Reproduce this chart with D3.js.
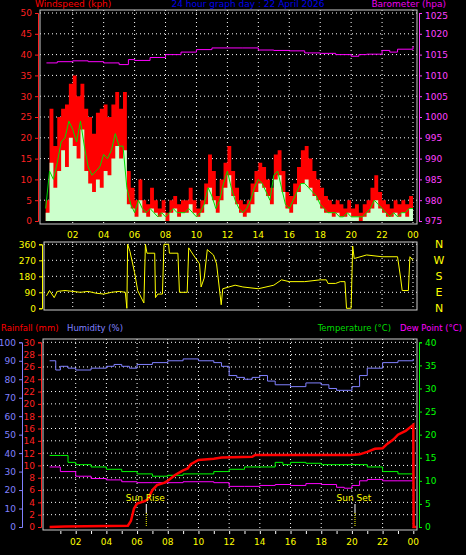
<!DOCTYPE html>
<html><head><meta charset="utf-8">
<script src="https://cdn.jsdelivr.net/npm/d3@7"></script>
<style>body{margin:0;background:#000}text{font-family:"DejaVu Sans",sans-serif}</style>
</head><body>
<script>
'use strict';

// wind, quarter-hour samples from 00:15 to 24:00
let gust = [5,27,18,25, 27,28,33,35, 30,33,27,25, 21,26,27,28, 25,28,31,27, 31,12,8,5,
  10,5,4,8, 5,3,5,2, 5,6,4,5, 5,8,5,3, 5,9,16,12, 6,10,14,18, 12,8,5,4, 5,9,12,14,
  13,10,8,16, 17,12,7,6, 9,13,17,18, 15,12,10,8, 6,5,4,5, 4,3,5,3, 4,2,4,5, 8,11,7,5, 4,3,5,4, 5,4,6,9];
let speed = [2,14,8,12, 17,13,20,18, 15,22,12,9, 7,10,8,12, 11,15,18,15, 17,4,3,1,
  5,2,1,3, 2,1,2,0, 2,3,1,2, 2,4,2,1, 2,4,8,5, 2,5,8,11, 6,4,2,1, 2,4,7,9,
  8,6,4,10, 11,7,3,2, 4,7,9,10, 8,6,5,3, 2,2,1,2, 1,1,2,1, 1,0,1,2, 3,5,3,2, 1,1,2,1, 2,1,3,4];
let avgWind = [3,12,10,14, 19,20,24,22, 19,24,18,13, 11,12,13,16, 15,17,21,18, 18,8,4,2,
  5,3,2,3, 2,1,2,1, 2,3,2,2, 2,3,2,1, 2,4,8,6, 3,5,9,12, 8,5,3,2, 3,5,8,10,
  9,7,5,11, 12,8,4,3, 5,7,9,9, 8,7,6,4, 3,2,2,2, 1,1,2,1, 1,1,1,2, 3,5,4,3, 2,1,2,1, 2,2,3,3];

let baro = [[0.3,1013],[1,1013.3],[2,1013.5],[3,1013.3],[4,1013],[5,1012.6],[5.6,1013.8],[6,1013.6],[7,1014.3],[8,1015],[9,1015.6],[10,1016.2],[11,1016.6],[12,1016.6],[13,1016.6],[14,1016.1],[15,1016],[16,1015.9],[17,1015.4],[18,1015.3],[19,1015],[20,1014.6],[20.5,1015],[21,1015.1],[22,1016],[22.5,1015.6],[23,1016.3],[24,1017]];

let windDir = [[0.3,70],[0.5,100],[0.8,60],[1,95],[1.5,100],[2,95],[2.5,90],[3,95],[3.5,85],[4,80],[4.5,90],[5,95],[5.4,90],[5.5,0],[5.55,360],[5.7,320],[6,200],[6.2,100],[6.6,30],[6.7,360],[6.8,310],[7.3,310],[7.35,60],[7.5,80],[7.8,80],[7.9,360],[8.2,360],[8.25,310],[8.8,310],[8.9,90],[9.4,90],[9.5,340],[9.8,300],[10.2,250],[10.3,120],[10.5,170],[10.7,330],[11.1,300],[11.3,250],[11.6,20],[11.7,110],[12.5,130],[13,120],[14,110],[15,130],[15.5,160],[16,150],[17,150],[18,160],[18.4,160],[18.5,140],[19,140],[19.3,150],[19.6,150],[19.7,0],[20,0],[20.1,350],[20.2,280],[21,300],[22,290],[23,290],[23.2,170],[23.3,100],[23.7,100],[23.8,290],[24,270]];

let humidity = [[0.3,90],[0.7,85],[1,87],[1.5,86],[2,85],[3,86],[4,87],[4.5,88],[5,87],[5.5,86],[6,88],[7,89],[8,90],[9,91],[10,90],[11,89],[11.5,87],[12,82],[12.5,81],[13,80],[13.5,81],[14,82],[14.5,79],[15,77],[16,76],[17,78],[18,77],[18.5,75],[19,74],[19.8,74],[20,76],[20.5,82],[21,86],[22,89],[23,90],[24,91]];
let temperature = [[0.3,15.5],[1,15.5],[1.5,14],[2,13.5],[3,13],[4,12.5],[5,12],[6,11.5],[7,11],[8,11.2],[9,11.5],[10,11.5],[11,12],[12,12.5],[13,13],[14,13],[14.5,13],[15,14],[15.5,13.5],[16,14],[17,13.8],[18,13.5],[19,13.5],[20,13.5],[21,13],[22,12],[23,11.5],[24,12]];
let dewPoint = [[0.3,13],[1,12],[2,11],[3,10.5],[4,10.2],[5,9.8],[6,9.6],[7,9.6],[8,9.6],[9,9.8],[10,9.8],[11,9.6],[12,8.8],[13,8.8],[14,9],[15,9.2],[16,9],[17,9.4],[18,9.2],[19,8.6],[19.5,8.4],[20,9],[20.5,10],[21,10.3],[22,10],[23,10],[24,10.2]];
let rain = [[0.3,0],[1.3,0.1],[5.4,0.2],[5.6,1],[5.8,3],[6,3.8],[6.5,4.2],[6.7,4.5],[7,6],[7.3,6.8],[7.8,7.2],[8,7.5],[8.5,8.5],[9,9.2],[9.3,9.5],[9.5,10.2],[10,10.9],[11,11.1],[11.5,11.3],[13.5,11.4],[13.7,11.7],[20,11.7],[20.5,11.8],[21,12.2],[21.5,12.7],[22,12.8],[22.3,13.5],[22.7,14.2],[23,15],[23.5,15.6],[24,16.6],[24.02,0],[24.2,0]];

let hourLabels = ['02','04','06','08','10','12','14','16','18','20','22','00'];
let dirLabels = ['N','W','S','E','N'];
let sunEvents = [['Sun Rise',6.6],['Sun Set',20.2]];

let svg = d3.select('body').append('svg').attr('width',466).attr('height',555);
let grid = (g, xs, ys, x0, x1, y0, y1) => {
  xs.forEach(v => g.append('line').attr('x1',v).attr('x2',v).attr('y1',y0).attr('y2',y1));
  ys.forEach(v => g.append('line').attr('x1',x0).attr('x2',x1).attr('y1',v).attr('y2',v));
  g.attr('stroke','#fff').attr('stroke-dasharray','1,3');
};
let txt = (x,y,s,c,a,sz) => svg.append('text').attr('x',x).attr('y',y).attr('fill',c)
  .attr('text-anchor',a||'start').attr('font-size',sz||9).text(s);

// ---------- wind panel
let x = d3.scaleLinear().domain([0,24]).range([41.8,413]);
let yW = d3.scaleLinear().domain([0,50]).range([221,13]);
let yB = d3.scaleLinear().domain([975,1025]).range([221,13]);
let tq = i => 0.25 + i*0.25;
grid(svg.append('g'), d3.range(2,25,2).map(x), d3.range(5,51,5).map(yW), 40, 417, 10, 224);
let area = arr => d3.area().curve(d3.curveStepAfter).x((d,i)=>x(tq(i))).y0(yW(0)).y1(d=>yW(d))(arr);
svg.append('path').attr('d',area(gust)).attr('fill','#ff0000');
svg.append('path').attr('d',area(speed)).attr('fill','#ccffcc');
svg.append('path').attr('d',d3.line().x((d,i)=>x(tq(i))).y(d=>yW(d))(avgWind)).attr('fill','none').attr('stroke','#00dd00');
svg.append('path').attr('d',d3.line().curve(d3.curveStepAfter).x(d=>x(d[0])).y(d=>yB(d[1]))(baro)).attr('fill','none').attr('stroke','#ff00ff');
svg.append('rect').attr('x',40).attr('y',10).attr('width',377).attr('height',214).attr('fill','none').attr('stroke','#ccc');
let axL = svg.append('g').attr('transform','translate(38,0)').call(d3.axisLeft(yW).tickValues(d3.range(0,51,5)).tickSize(3));
axL.selectAll('text').attr('fill','#ff2020').attr('font-size',9);
axL.selectAll('line,path').attr('stroke','#ff2020');
let axR = svg.append('g').attr('transform','translate(419,0)').call(d3.axisRight(yB).tickValues(d3.range(975,1026,5)).tickFormat(d3.format('d')).tickSize(3));
axR.selectAll('text').attr('fill','#ff40ff').attr('font-size',9);
axR.selectAll('line,path').attr('stroke','#ff40ff');
axR.selectAll('.tick text').filter(d => d === 1025).attr('dy','0.6em');
hourLabels.forEach((h,i) => txt(x(2+2*i),238,h,'#ffff00','middle'));
txt(35,7,'Windspeed (kph)','#ff0000','start',9);
txt(248,7,'24 hour graph day : 22 April 2026','#0000ee','middle',9);
txt(446,7,'Barometer (hpa)','#ee00ee','end',9);

// ---------- direction panel
let yD = d3.scaleLinear().domain([0,360]).range([308.3,244.3]);
grid(svg.append('g'), d3.range(2,25,2).map(x), d3.range(90,361,90).map(yD), 44, 417, 242, 310);
svg.append('path').attr('d',d3.line().x(d=>x(d[0])).y(d=>yD(d[1]))(windDir)).attr('fill','none').attr('stroke','#ffff00');
svg.append('rect').attr('x',44).attr('y',242).attr('width',373).attr('height',68).attr('fill','none').attr('stroke','#ccc');
let axD = svg.append('g').attr('transform','translate(42,0)').call(d3.axisLeft(yD).tickValues([0,90,180,270,360]).tickSize(3));
axD.selectAll('text').attr('fill','#ffff00').attr('font-size',9);
axD.selectAll('line,path').attr('stroke','#ffff00');
dirLabels.forEach((s,i) => txt(439,yD(360-90*i)+4,s,'#ffff00','middle',11));

// ---------- temperature panel
let x2 = d3.scaleLinear().domain([0,24]).range([45,413.3]);
let yR = d3.scaleLinear().domain([0,30]).range([527,342.3]);
let yH = d3.scaleLinear().domain([0,100]).range([527,342.3]);
let yT = d3.scaleLinear().domain([0,40]).range([527,342.3]);
txt(1,331,'Rainfall (mm)','#ff0000','start',8.5);
txt(67,331,'Humidity (%)','#8080ff','start',8.5);
txt(391,331,'Temperature (°C)','#00dd00','end',8.5);
txt(462,331,'Dew Point (°C)','#ff00ff','end',8.5);
grid(svg.append('g'), d3.range(2,25,2).map(x2), d3.range(2,31,2).map(yR), 43, 417, 339, 530);
let ln = (data, ys, c, w) => svg.append('path').attr('d',d3.line().curve(d3.curveStepAfter).x(d=>x2(d[0])).y(d=>ys(d[1]))(data))
  .attr('fill','none').attr('stroke',c).attr('stroke-width',w||1);
ln(humidity, yH, '#8080ff');
ln(temperature, yT, '#00ff00');
ln(dewPoint, yT, '#ff00ff');
svg.append('path').attr('d',d3.line().x(d=>x2(d[0])).y(d=>yR(d[1]))(rain)).attr('fill','none').attr('stroke','#ff0000').attr('stroke-width',2.5);
sunEvents.forEach(([s,t]) => {
  txt(x2(t)-1,501,s,'#ffff00','middle',9);
  svg.append('line').attr('x1',x2(t)).attr('x2',x2(t)).attr('y1',504).attr('y2',513).attr('stroke','#fff');
  svg.append('line').attr('x1',x2(t)).attr('x2',x2(t)).attr('y1',513).attr('y2',527).attr('stroke','#ffff00').attr('stroke-dasharray','1,1');
});
svg.append('rect').attr('x',43).attr('y',339).attr('width',374).attr('height',191).attr('fill','none').attr('stroke','#ccc');
let axRain = svg.append('g').attr('transform','translate(41,0)').call(d3.axisLeft(yR).tickValues(d3.range(0,31,2)).tickSize(3));
axRain.selectAll('text').attr('fill','#ff2020').attr('font-size',9);
axRain.selectAll('line,path').attr('stroke','#ff2020');
let axH = svg.append('g').attr('transform','translate(22,0)').call(d3.axisLeft(yH).tickValues(d3.range(0,101,10)).tickSize(3));
axH.selectAll('text').attr('fill','#8080ff').attr('font-size',9);
axH.selectAll('line,path').attr('stroke','#8080ff');
let axT = svg.append('g').attr('transform','translate(419,0)').call(d3.axisRight(yT).tickValues(d3.range(0,41,5)).tickSize(3));
axT.selectAll('text').attr('fill','#00ff00').attr('font-size',9);
axT.selectAll('line,path').attr('stroke','#00ff00');
let axX = svg.append('g').attr('transform','translate(0,531)').call(d3.axisBottom(x2).tickValues(d3.range(1,25)).tickSize(3).tickFormat(''));
axX.selectAll('line').attr('stroke','#fff');
axX.select('path').remove();
hourLabels.forEach((h,i) => txt(x2(2+2*i),545,h,'#ffff00','middle'));
</script>
</body></html>
